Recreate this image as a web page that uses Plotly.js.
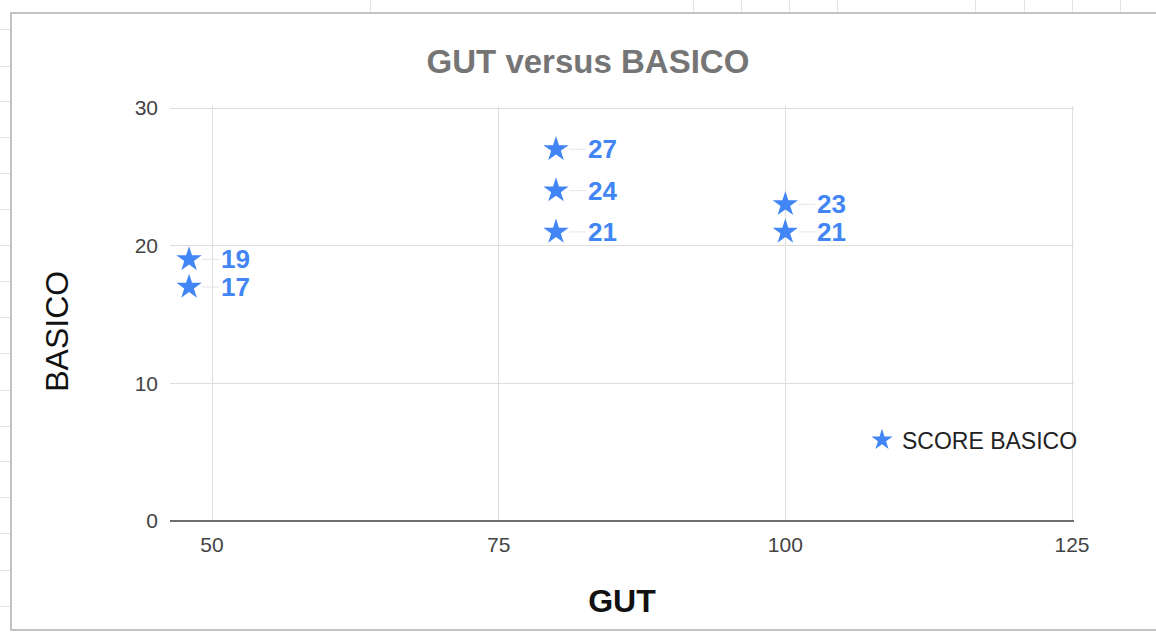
<!DOCTYPE html>
<html>
<head>
<meta charset="utf-8">
<script src="https://cdn.plot.ly/plotly-3.0.1.min.js"></script>
<style>
  html, body { margin: 0; padding: 0; width: 1156px; height: 635px; overflow: hidden; background: #ffffff; }
  #sheet { position: absolute; left: 0; top: 0; width: 1156px; height: 635px; }
  .hl { position: absolute; left: 0; width: 11px; height: 1px; background: #e2e2e2; }
  .vl { position: absolute; top: 0; height: 13px; width: 1px; background: #e2e2e2; }
  #frame { position: absolute; left: 10px; top: 12px; width: 1160px; height: 619px; border: 2px solid #c2c2c2; background: #ffffff; box-sizing: border-box; }
  #chart { position: absolute; left: 0; top: 0; width: 1156px; height: 635px; }
</style>
</head>
<body>
<div id="sheet"></div>
<div id="frame"></div>
<div id="chart"></div>
<script>
// ---- data ----
const gutValues    = [48, 48, 80, 80, 80, 100, 100];
const basicoValues = [19, 17, 27, 24, 21, 23, 21];
const seriesName   = 'SCORE BASICO';
const xTickValues  = [50, 75, 100, 125];
const yTickValues  = [0, 10, 20, 30];
const chartTitle   = 'GUT versus BASICO';
const xTitle       = 'GUT';
const yTitle       = 'BASICO';

// spreadsheet cell lines around the chart (decoration)
const sheet = document.getElementById('sheet');
[29, 66, 101, 137, 173, 209, 245, 281, 317, 353, 390, 426, 461, 497, 533, 570, 606].forEach(y => {
  const d = document.createElement('div'); d.className = 'hl'; d.style.top = y + 'px'; sheet.appendChild(d);
});
[370, 693, 741, 789, 837, 975, 1024, 1072, 1120].forEach(x => {
  const d = document.createElement('div'); d.className = 'vl'; d.style.left = x + 'px'; sheet.appendChild(d);
});

const blue = '#4285f4';
const FONT = 'Liberation Sans, Arial, sans-serif';

const trace = {
  type: 'scatter',
  mode: 'markers',
  name: seriesName,
  x: gutValues,
  y: basicoValues,
  marker: { symbol: 'star', size: 19, color: blue, line: { width: 0 } },
  showlegend: true,
  hoverinfo: 'x+y'
};

const labelAnnotations = gutValues.map((gx, i) => ({
  x: gx, y: basicoValues[i], xref: 'x', yref: 'y',
  text: String(basicoValues[i]),
  showarrow: true, arrowhead: 0, arrowwidth: 1, arrowcolor: '#e6e6e6',
  ax: 46, ay: 0, standoff: 13,
  font: { family: FONT, size: 26, color: blue, weight: 'bold' }
}));

const layout = {
  width: 1156, height: 635,
  paper_bgcolor: 'rgba(0,0,0,0)',
  plot_bgcolor: 'rgba(0,0,0,0)',
  margin: { l: 170, r: 82, t: 106, b: 114, pad: 0 },
  font: { family: FONT, color: '#444444' },
  title: {
    text: chartTitle,
    font: { family: FONT, size: 33, color: '#757575', weight: 'bold' },
    x: 0.5086, xref: 'container', xanchor: 'center',
    y: 1 - 61 / 635, yref: 'container', yanchor: 'middle'
  },
  xaxis: {
    range: [46.337, 125.174],
    tickvals: xTickValues,
    ticktext: xTickValues.map(String),
    showgrid: true, gridcolor: '#dedede', gridwidth: 1,
    zeroline: false, showline: false,
    ticks: '', ticklabelstandoff: 9,
    tickfont: { family: FONT, size: 21, color: '#444444' },
    title: { text: xTitle, font: { family: FONT, size: 32, color: '#111111', weight: 'bold' }, standoff: 34 },
    automargin: false, fixedrange: true
  },
  yaxis: {
    range: [0, 30.145],
    tickvals: yTickValues,
    ticktext: yTickValues.map(String),
    showgrid: true, gridcolor: '#dedede', gridwidth: 1,
    zeroline: true, zerolinecolor: '#6e6e6e', zerolinewidth: 2,
    showline: false,
    ticks: '', ticklabelstandoff: 11,
    tickfont: { family: FONT, size: 21, color: '#444444' },
    title: { text: yTitle + '<span style="color:rgba(0,0,0,0)">__</span>', font: { family: FONT, size: 32, color: '#111111' }, standoff: 56 },
    automargin: false, fixedrange: true
  },
  showlegend: true,
  legend: {
    x: (862 - 170) / 904, xanchor: 'left',
    y: (521 - 440) / 415, yanchor: 'middle',
    bgcolor: 'rgba(0,0,0,0)', borderwidth: 0,
    font: { family: FONT, size: 23, color: '#222222' }
  },
  annotations: labelAnnotations
};

Plotly.newPlot('chart', [trace], layout, { displayModeBar: false, staticPlot: true });
</script>
</body>
</html>
